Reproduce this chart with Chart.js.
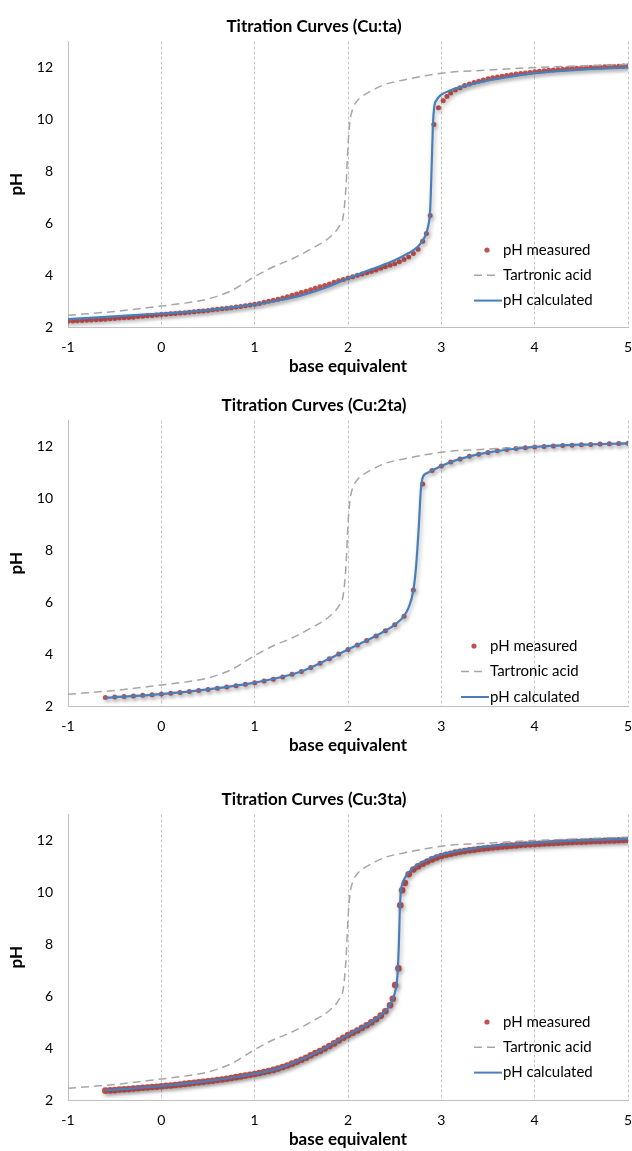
<!DOCTYPE html>
<html>
<head>
<meta charset="utf-8">
<script src="https://cdn.jsdelivr.net/npm/chart.js@4.4.0/dist/chart.umd.min.js"></script>
<style>
  html, body { margin: 0; padding: 0; background: #fff; overflow: hidden; }
  .box { position: absolute; left: 0; width: 632px; height: 383px; }
</style>
</head>
<body>
<div class="box" style="top:0px"><canvas id="chart1"></canvas></div>
<div class="box" style="top:379px"><canvas id="chart2"></canvas></div>
<div class="box" style="top:773px"><canvas id="chart3"></canvas></div>
<script>
// chart titles and series names
const chartTitles = ['Titration Curves (Cu:ta)', 'Titration Curves (Cu:2ta)', 'Titration Curves (Cu:3ta)'];
const seriesNames = ['pH measured', 'Tartronic acid', 'pH calculated'];
const xTickValues = [-1, 0, 1, 2, 3, 4, 5];
const yTickValues = [2, 4, 6, 8, 10, 12];

// free ligand curve (same in all three panels)
const tartronicX = [-1.0, -0.5, 0.0, 0.25, 0.5, 0.75, 1.0, 1.2, 1.4, 1.6, 1.8, 1.9, 1.95, 1.98, 2.0, 2.02, 2.05, 2.1, 2.15, 2.25, 2.4, 2.6, 3.0, 3.5, 4.0, 4.5, 5.0];
const tartronicY = [2.45, 2.60, 2.81, 2.92, 3.08, 3.40, 3.94, 4.32, 4.62, 5.00, 5.45, 5.85, 6.30, 7.50, 9.00, 9.90, 10.40, 10.72, 10.88, 11.10, 11.35, 11.52, 11.78, 11.90, 12.00, 12.06, 12.12];

// Cu:ta
const cu1MeasX = [-1.00, -0.95, -0.90, -0.85, -0.80, -0.75, -0.70, -0.65, -0.60, -0.55,
  -0.50, -0.45, -0.40, -0.35, -0.30, -0.25, -0.20, -0.15, -0.10, -0.05,
  0.00, 0.05, 0.10, 0.15, 0.20, 0.25, 0.30, 0.35, 0.40, 0.45,
  0.50, 0.55, 0.60, 0.65, 0.70, 0.75, 0.80, 0.85, 0.90, 0.95,
  1.00, 1.05, 1.10, 1.15, 1.20, 1.25, 1.30, 1.35, 1.40, 1.45,
  1.50, 1.55, 1.60, 1.65, 1.70, 1.75, 1.80, 1.85, 1.90, 1.95,
  2.00, 2.05, 2.10, 2.15, 2.20, 2.25, 2.30, 2.35, 2.40, 2.45,
  2.50, 2.55, 2.60, 2.65, 2.70, 2.75, 2.80, 2.84, 2.88, 2.92,
  2.97, 3.02, 3.06, 3.10, 3.15, 3.20, 3.25, 3.30, 3.35, 3.40,
  3.45, 3.50, 3.55, 3.60, 3.65, 3.70, 3.75, 3.80, 3.85, 3.90,
  3.95, 4.00, 4.05, 4.10, 4.15, 4.20, 4.25, 4.30, 4.35, 4.40,
  4.45, 4.50, 4.55, 4.60, 4.65, 4.70, 4.75, 4.80, 4.85, 4.90,
  4.95, 5.00];
const cu1MeasY = [2.22, 2.23, 2.24, 2.25, 2.26, 2.27, 2.28, 2.29, 2.30, 2.32,
  2.33, 2.35, 2.36, 2.37, 2.38, 2.40, 2.41, 2.43, 2.44, 2.46,
  2.48, 2.49, 2.51, 2.52, 2.54, 2.55, 2.57, 2.59, 2.61, 2.62,
  2.64, 2.66, 2.68, 2.70, 2.72, 2.74, 2.77, 2.79, 2.82, 2.85,
  2.88, 2.91, 2.95, 2.99, 3.03, 3.07, 3.12, 3.17, 3.22, 3.27,
  3.33, 3.38, 3.44, 3.49, 3.55, 3.60, 3.66, 3.72, 3.78, 3.83,
  3.89, 3.94, 3.99, 4.04, 4.09, 4.14, 4.20, 4.26, 4.32, 4.38,
  4.44, 4.51, 4.60, 4.70, 4.83, 5.00, 5.30, 5.60, 6.30, 9.80,
  10.45, 10.72, 10.88, 11.02, 11.13, 11.22, 11.30, 11.36, 11.42, 11.47,
  11.52, 11.56, 11.60, 11.63, 11.66, 11.69, 11.72, 11.75, 11.77, 11.79,
  11.81, 11.83, 11.85, 11.87, 11.89, 11.90, 11.92, 11.93, 11.95, 11.96,
  11.97, 11.98, 11.99, 12.00, 12.01, 12.02, 12.03, 12.04, 12.04, 12.05,
  12.06, 12.06];
const cu1CalcX = [-1.0, -0.5, 0.0, 0.5, 1.0, 1.25, 1.5, 1.75, 2.0, 2.25, 2.5, 2.65, 2.75, 2.82, 2.86, 2.88, 2.895, 2.91, 2.925, 2.95, 3.0, 3.1, 3.27, 3.5, 3.66, 4.0, 4.5, 5.0];
const cu1CalcY = [2.30, 2.41, 2.52, 2.65, 2.87, 3.02, 3.22, 3.50, 3.87, 4.22, 4.57, 4.85, 5.10, 5.45, 5.90, 6.50, 8.00, 9.80, 10.50, 10.75, 10.95, 11.12, 11.30, 11.50, 11.60, 11.78, 11.92, 12.00];

// Cu:2ta
const cu2MeasX = [-0.6, -0.5, -0.4, -0.3, -0.2, -0.1, 0.0, 0.1, 0.2, 0.3,
  0.4, 0.5, 0.6, 0.7, 0.8, 0.9, 1.0, 1.1, 1.2, 1.3,
  1.4, 1.5, 1.6, 1.7, 1.8, 1.9, 2.0, 2.1, 2.2, 2.3,
  2.4, 2.5, 2.6, 2.7, 2.8, 2.9, 3.0, 3.1, 3.2, 3.3,
  3.4, 3.5, 3.6, 3.7, 3.8, 3.9, 4.0, 4.1, 4.2, 4.3,
  4.4, 4.5, 4.6, 4.7, 4.8, 4.9, 5.0];
const cu2MeasY = [2.33, 2.35, 2.37, 2.39, 2.41, 2.43, 2.46, 2.49, 2.52, 2.56,
  2.60, 2.64, 2.68, 2.73, 2.78, 2.84, 2.90, 2.96, 3.03, 3.12,
  3.22, 3.33, 3.48, 3.65, 3.82, 4.00, 4.18, 4.35, 4.52, 4.70,
  4.90, 5.13, 5.46, 6.47, 10.55, 11.07, 11.25, 11.40, 11.52, 11.62,
  11.70, 11.77, 11.83, 11.88, 11.92, 11.95, 11.98, 12.00, 12.02, 12.04,
  12.05, 12.07, 12.08, 12.09, 12.10, 12.11, 12.12];
const cu2CalcX = [-0.6, 0.0, 0.5, 1.0, 1.5, 1.8, 2.0, 2.2, 2.4, 2.5, 2.6, 2.65, 2.7, 2.73, 2.76, 2.78, 2.8, 2.85, 2.9, 3.0, 3.2, 3.5, 4.0, 4.5, 5.0];
const cu2CalcY = [2.32, 2.46, 2.64, 2.90, 3.33, 3.82, 4.18, 4.52, 4.90, 5.13, 5.46, 5.80, 6.45, 7.40, 9.00, 10.30, 10.80, 10.98, 11.07, 11.25, 11.52, 11.77, 11.98, 12.07, 12.12];

// Cu:3ta
const cu3MeasX = [-0.60, -0.55, -0.50, -0.45, -0.40, -0.35, -0.30, -0.25, -0.20, -0.15,
  -0.10, -0.05, 0.00, 0.05, 0.10, 0.15, 0.20, 0.25, 0.30, 0.35,
  0.40, 0.45, 0.50, 0.55, 0.60, 0.65, 0.70, 0.75, 0.80, 0.85,
  0.90, 0.95, 1.00, 1.05, 1.10, 1.15, 1.20, 1.25, 1.30, 1.35,
  1.40, 1.45, 1.50, 1.55, 1.60, 1.65, 1.70, 1.75, 1.80, 1.85,
  1.90, 1.95, 2.00, 2.05, 2.10, 2.15, 2.20, 2.25, 2.30, 2.35,
  2.40, 2.45, 2.48, 2.505, 2.54, 2.56, 2.58, 2.61, 2.65, 2.70,
  2.75, 2.80, 2.85, 2.90, 2.95, 3.00, 3.05, 3.10, 3.15, 3.20,
  3.25, 3.30, 3.35, 3.40, 3.45, 3.50, 3.55, 3.60, 3.65, 3.70,
  3.75, 3.80, 3.85, 3.90, 3.95, 4.00, 4.05, 4.10, 4.15, 4.20,
  4.25, 4.30, 4.35, 4.40, 4.45, 4.50, 4.55, 4.60, 4.65, 4.70,
  4.75, 4.80, 4.85, 4.90, 4.95, 5.00];
const cu3MeasY = [2.36, 2.37, 2.38, 2.40, 2.41, 2.42, 2.44, 2.45, 2.47, 2.48,
  2.50, 2.51, 2.53, 2.55, 2.56, 2.58, 2.60, 2.62, 2.64, 2.66,
  2.68, 2.70, 2.72, 2.74, 2.77, 2.79, 2.82, 2.85, 2.88, 2.91,
  2.94, 2.97, 3.00, 3.04, 3.08, 3.12, 3.16, 3.21, 3.27, 3.33,
  3.40, 3.47, 3.55, 3.63, 3.72, 3.81, 3.89, 3.98, 4.08, 4.18,
  4.29, 4.40, 4.50, 4.59, 4.68, 4.78, 4.88, 4.99, 5.11, 5.25,
  5.42, 5.65, 5.90, 6.43, 7.07, 9.50, 10.08, 10.36, 10.70, 10.88,
  11.00, 11.10, 11.19, 11.27, 11.34, 11.40, 11.45, 11.49, 11.53, 11.56,
  11.59, 11.62, 11.64, 11.67, 11.69, 11.71, 11.73, 11.75, 11.77, 11.78,
  11.80, 11.81, 11.83, 11.84, 11.85, 11.86, 11.87, 11.88, 11.89, 11.90,
  11.91, 11.92, 11.93, 11.94, 11.95, 11.95, 11.96, 11.97, 11.98, 11.98,
  11.99, 12.00, 12.00, 12.01, 12.02, 12.02];
const cu3CalcX = [-0.6, -0.3, 0.0, 0.5, 1.0, 1.25, 1.5, 1.75, 2.0, 2.2, 2.35, 2.45, 2.5, 2.53, 2.545, 2.555, 2.565, 2.58, 2.62, 2.7, 2.8, 3.0, 3.25, 3.5, 4.0, 4.5, 5.0];
const cu3CalcY = [2.37, 2.45, 2.54, 2.73, 3.01, 3.21, 3.56, 3.99, 4.51, 4.89, 5.26, 5.66, 6.10, 6.80, 8.00, 9.30, 10.00, 10.30, 10.62, 10.95, 11.17, 11.46, 11.64, 11.77, 11.91, 12.00, 12.06];

const FONT = 'Lato, "Open Sans", sans-serif';
const RED = '#c0504d';
const BLUE = '#4a7ebb';
const GRAY = '#a6a6a6';

function zip(xs, ys) {
  return xs.map((x, i) => ({ x: x, y: ys[i] }));
}

// soft drop shadow like the original spreadsheet chart
const seriesShadow = {
  id: 'seriesShadow',
  beforeDatasetDraw(chart, args) {
    if (!chart.data.datasets[args.index].shadow) return;
    const ctx = chart.ctx;
    ctx.save();
    ctx.shadowColor = 'rgba(0, 0, 0, 0.3)';
    ctx.shadowBlur = 4;
    ctx.shadowOffsetX = 1.5;
    ctx.shadowOffsetY = 2;
  },
  afterDatasetDraw(chart, args) {
    if (chart.data.datasets[args.index].shadow) chart.ctx.restore();
  }
};

// legend drawn inside the plot area
const insideLegend = {
  id: 'insideLegend',
  afterDraw(chart, args, opts) {
    const ctx = chart.ctx;
    ctx.save();
    ctx.font = '15px ' + FONT;
    ctx.textBaseline = 'middle';
    seriesNames.forEach((name, i) => {
      const x = opts.x;
      const y = opts.y + i * opts.gap;
      if (i === 0) {
        ctx.fillStyle = RED;
        ctx.beginPath();
        ctx.arc(x - 16, y, 2.6, 0, Math.PI * 2);
        ctx.fill();
      } else {
        ctx.strokeStyle = i === 1 ? GRAY : BLUE;
        ctx.lineWidth = i === 1 ? 1.5 : 2;
        ctx.setLineDash(i === 1 ? [8, 5] : []);
        ctx.beginPath();
        ctx.moveTo(x - 29, y);
        ctx.lineTo(i === 1 ? x - 6 : x - 1, y);
        ctx.stroke();
        ctx.setLineDash([]);
      }
      ctx.fillStyle = '#000';
      ctx.fillText(name, x, y);
    });
    ctx.restore();
  }
};

function makeChart(id, title, measX, measY, calcX, calcY, legendPos, dotRadius) {
  const ctx = document.getElementById(id).getContext('2d');
  return new Chart(ctx, {
    type: 'scatter',
    data: {
      datasets: [{
        label: seriesNames[0],
        data: zip(measX, measY),
        showLine: false,
        pointRadius: dotRadius,
        pointBorderWidth: 0,
        pointBackgroundColor: RED,
        pointBorderColor: RED,
        shadow: true,
        order: 3
      }, {
        label: seriesNames[1],
        data: zip(tartronicX, tartronicY),
        showLine: true,
        borderColor: GRAY,
        borderWidth: 1.5,
        borderDash: [8, 5],
        pointRadius: 0,
        cubicInterpolationMode: 'monotone',
        order: 2
      }, {
        label: seriesNames[2],
        data: zip(calcX, calcY),
        showLine: true,
        borderColor: BLUE,
        borderWidth: 2.2,
        pointRadius: 0,
        cubicInterpolationMode: 'monotone',
        shadow: true,
        order: 1
      }]
    },
    options: {
      responsive: true,
      maintainAspectRatio: false,
      animation: false,
      events: [],
      layout: { padding: { left: 0, right: 4, top: 0, bottom: 0 } },
      plugins: {
        legend: { display: false },
        tooltip: { enabled: false },
        title: {
          display: true,
          text: title,
          color: '#000',
          font: { family: FONT, size: 17, weight: 'bold' },
          padding: { top: 16.8, bottom: 4.3 }
        },
        insideLegend: legendPos
      },
      scales: {
        x: {
          type: 'linear',
          min: -1,
          max: 5,
          afterBuildTicks: s => { s.ticks = xTickValues.map(v => ({ value: v })); },
          afterFit: s => { s.height = 56; s.paddingLeft = 0; s.paddingRight = 0; },
          ticks: { padding: 11.6, color: '#000', font: { family: FONT, size: 14 } },
          grid: { color: '#c4c4c4', lineWidth: 1, drawTicks: false },
          border: { display: true, color: '#bfbfbf', width: 1, dash: [3, 2] },
          title: {
            display: true,
            text: 'base equivalent',
            color: '#000',
            font: { family: FONT, size: 17, weight: 'bold' },
            padding: { top: 0, bottom: 5.8 }
          }
        },
        y: {
          type: 'linear',
          min: 2,
          max: 13,
          afterBuildTicks: s => { s.ticks = yTickValues.map(v => ({ value: v })); },
          afterFit: s => { s.width = 68; },
          ticks: { padding: 15, color: '#000', font: { family: FONT, size: 14 } },
          grid: { display: false, drawTicks: false },
          border: { display: true, color: '#bfbfbf', width: 1 },
          title: {
            display: true,
            text: 'pH',
            color: '#000',
            font: { family: FONT, size: 17, weight: 'bold' },
            padding: { top: 6.8, bottom: 0 }
          }
        }
      }
    },
    plugins: [seriesShadow, insideLegend]
  });
}

document.addEventListener('DOMContentLoaded', function () {
  makeChart('chart1', chartTitles[0], cu1MeasX, cu1MeasY, cu1CalcX, cu1CalcY, { x: 503, y: 250, gap: 25.3 }, 2.5);
  makeChart('chart2', chartTitles[1], cu2MeasX, cu2MeasY, cu2CalcX, cu2CalcY, { x: 490, y: 267, gap: 25.5 }, 2.5);
  makeChart('chart3', chartTitles[2], cu3MeasX, cu3MeasY, cu3CalcX, cu3CalcY, { x: 503, y: 249, gap: 25.3 }, 3.3);
});
</script>
</body>
</html>
